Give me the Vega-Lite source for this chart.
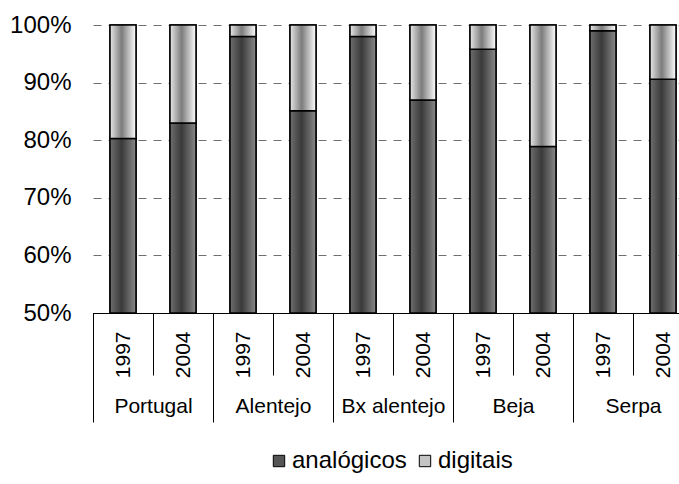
{
  "$schema": "https://vega.github.io/schema/vega-lite/v6.json",
  "autosize": "none",
  "width": 586,
  "height": 288,
  "padding": {"left": 93, "top": 25, "right": 0, "bottom": 171},
  "background": "white",
  "config": {
    "view": {"stroke": null},
    "font": "Liberation Sans"
  },
  "data": {
    "values": [
      {"group": "Portugal", "year": "1997", "key": "Portugal 1997", "series": "analógicos", "order": 1, "value": 0.803},
      {"group": "Portugal", "year": "1997", "key": "Portugal 1997", "series": "digitais", "order": 2, "value": 0.197},
      {"group": "Portugal", "year": "2004", "key": "Portugal 2004", "series": "analógicos", "order": 1, "value": 0.830},
      {"group": "Portugal", "year": "2004", "key": "Portugal 2004", "series": "digitais", "order": 2, "value": 0.170},
      {"group": "Alentejo", "year": "1997", "key": "Alentejo 1997", "series": "analógicos", "order": 1, "value": 0.980},
      {"group": "Alentejo", "year": "1997", "key": "Alentejo 1997", "series": "digitais", "order": 2, "value": 0.020},
      {"group": "Alentejo", "year": "2004", "key": "Alentejo 2004", "series": "analógicos", "order": 1, "value": 0.851},
      {"group": "Alentejo", "year": "2004", "key": "Alentejo 2004", "series": "digitais", "order": 2, "value": 0.149},
      {"group": "Bx alentejo", "year": "1997", "key": "Bx alentejo 1997", "series": "analógicos", "order": 1, "value": 0.980},
      {"group": "Bx alentejo", "year": "1997", "key": "Bx alentejo 1997", "series": "digitais", "order": 2, "value": 0.020},
      {"group": "Bx alentejo", "year": "2004", "key": "Bx alentejo 2004", "series": "analógicos", "order": 1, "value": 0.870},
      {"group": "Bx alentejo", "year": "2004", "key": "Bx alentejo 2004", "series": "digitais", "order": 2, "value": 0.130},
      {"group": "Beja", "year": "1997", "key": "Beja 1997", "series": "analógicos", "order": 1, "value": 0.958},
      {"group": "Beja", "year": "1997", "key": "Beja 1997", "series": "digitais", "order": 2, "value": 0.042},
      {"group": "Beja", "year": "2004", "key": "Beja 2004", "series": "analógicos", "order": 1, "value": 0.789},
      {"group": "Beja", "year": "2004", "key": "Beja 2004", "series": "digitais", "order": 2, "value": 0.211},
      {"group": "Serpa", "year": "1997", "key": "Serpa 1997", "series": "analógicos", "order": 1, "value": 0.990},
      {"group": "Serpa", "year": "1997", "key": "Serpa 1997", "series": "digitais", "order": 2, "value": 0.010},
      {"group": "Serpa", "year": "2004", "key": "Serpa 2004", "series": "analógicos", "order": 1, "value": 0.906},
      {"group": "Serpa", "year": "2004", "key": "Serpa 2004", "series": "digitais", "order": 2, "value": 0.094}
    ]
  },
  "transform": [
    {"stack": "value", "groupby": ["key"], "sort": [{"field": "order", "order": "ascending"}], "as": ["v0", "v1"]}
  ],
  "layer": [
    {
      "encoding": {
        "x": {
          "field": "key", "type": "nominal", "sort": null,
          "scale": {"range": [0, 600], "paddingInner": 0, "paddingOuter": 0},
          "axis": {
            "orient": "bottom",
            "title": null, "labelAngle": 270, "labelFont": "Liberation Sans", "labelFontSize": 21,
            "labelColor": "black", "labelExpr": "slice(datum.label, -4)",
            "tickBand": "extent", "tickSize": 62, "tickColor": "black", "tickWidth": 1,
            "labelPadding": -44, "domainColor": "black", "domainWidth": 1, "grid": false
          }
        },
        "y": {
          "field": "v1", "type": "quantitative",
          "scale": {"domain": [0.5, 1], "clamp": true, "nice": false},
          "axis": {
            "title": null, "format": ".0%", "values": [0.5, 0.6, 0.7, 0.8, 0.9, 1.0],
            "labelFont": "Liberation Sans", "labelFontSize": 24, "labelColor": "black",
            "labelPadding": 22, "ticks": false, "domain": false,
            "grid": true, "gridColor": "#707070", "gridDash": [8, 7], "gridWidth": 1
          }
        },
        "y2": {"field": "v0"}
      },
      "layer": [
        {
          "mark": {"type": "bar", "width": {"band": 0.433}, "stroke": "black", "strokeWidth": 1.5},
          "encoding": {
            "color": {
              "field": "series", "type": "nominal",
              "scale": {"domain": ["analógicos", "digitais"], "range": ["#555555", "#c4c4c4"]},
              "legend": {
                "title": null, "orient": "none", "legendX": 174, "legendY": 424, "direction": "horizontal",
                "labelFont": "Liberation Sans", "labelFontSize": 24, "labelColor": "black",
                "symbolType": "square", "symbolSize": 130, "symbolStrokeColor": "black",
                "symbolStrokeWidth": 1, "labelOffset": 1, "columnPadding": 6
              }
            }
          }
        },
        {
          "transform": [{"filter": "datum.series === 'analógicos'"}],
          "mark": {
            "type": "bar", "width": {"band": 0.433}, "stroke": "black", "strokeWidth": 1.5,
            "fill": {"gradient": "linear", "x1": 0, "x2": 1, "y1": 0, "y2": 0,
              "stops": [{"offset": 0, "color": "#6e6e6e"}, {"offset": 0.45, "color": "#3a3a3a"}, {"offset": 1, "color": "#8a8a8a"}]}
          }
        },
        {
          "transform": [{"filter": "datum.series === 'digitais'"}],
          "mark": {
            "type": "bar", "width": {"band": 0.433}, "stroke": "black", "strokeWidth": 1.5,
            "fill": {"gradient": "linear", "x1": 0, "x2": 1, "y1": 0, "y2": 0,
              "stops": [{"offset": 0, "color": "#e6e6e6"}, {"offset": 0.45, "color": "#7c7c7c"}, {"offset": 1, "color": "#ffffff"}]}
          }
        }
      ]
    },
    {
      "mark": {"type": "point", "opacity": 0},
      "encoding": {
        "x": {
          "field": "group", "type": "nominal", "sort": null,
          "scale": {"range": [0, 600], "paddingInner": 0, "paddingOuter": 0},
          "axis": {
            "orient": "bottom",
            "title": null, "labelAngle": 0, "labelFont": "Liberation Sans", "labelFontSize": 21,
            "labelColor": "black", "tickBand": "extent", "tickSize": 109, "tickColor": "black",
            "tickWidth": 1, "labelPadding": -27, "domainColor": "black", "grid": false
          }
        }
      }
    }
  ],
  "resolve": {"scale": {"x": "independent"}, "axis": {"x": "independent"}}
}
